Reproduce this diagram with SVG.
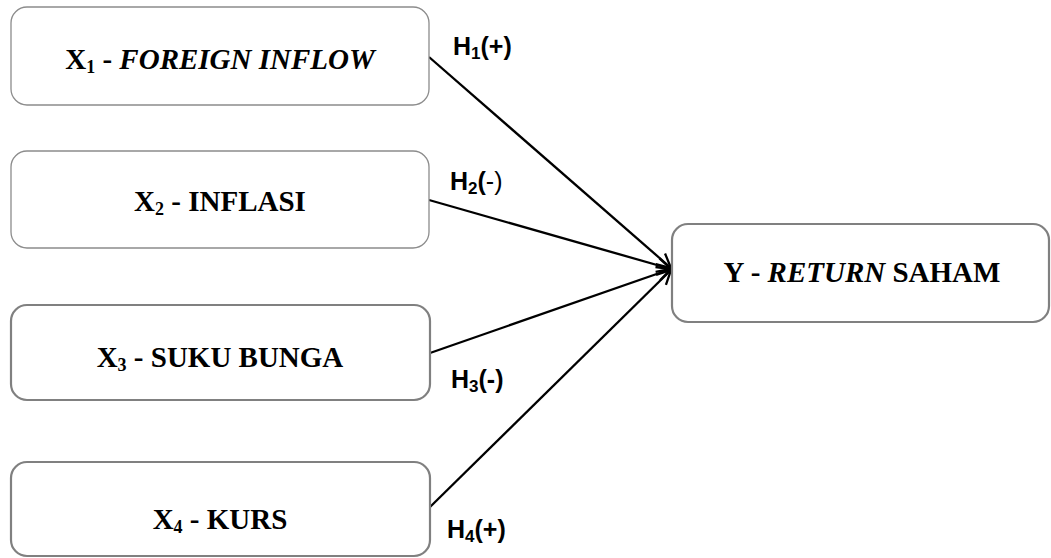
<svg xmlns="http://www.w3.org/2000/svg" width="1051" height="558" viewBox="0 0 1051 558">
<style>
.box{fill:#fff;stroke:#8c8c8c;stroke-width:1.3}
.box2{fill:#fff;stroke:#808080;stroke-width:2.2}
.t{font-family:"Liberation Serif","Times New Roman",serif;font-weight:bold;font-size:29px;fill:#000;text-anchor:middle}
.h{font-family:"Liberation Sans",Arial,sans-serif;font-weight:bold;font-size:25px;fill:#000}
.sub{font-size:18px}
.hs{font-size:17px}
.edge{stroke:#000;stroke-width:2.3;fill:none;marker-end:url(#arr)}
</style>
<defs>
<marker id="arr" markerUnits="userSpaceOnUse" markerWidth="22" markerHeight="22" refX="16" refY="11" orient="auto" viewBox="0 0 22 22">
<path d="M2,4 L16,11 L2,18" fill="none" stroke="#000" stroke-width="2.3"/>
</marker>
</defs>
<rect width="1051" height="558" fill="#fff"/>
<g id="connectors">
<line class="edge" x1="429" y1="57" x2="671" y2="268"/>
<line class="edge" x1="429" y1="200" x2="671" y2="269"/>
<line class="edge" x1="430" y1="353" x2="671" y2="269"/>
<line class="edge" x1="430" y1="507" x2="671" y2="270"/>
</g>
<g id="x1">
<rect class="box" x="11" y="7" width="418" height="98" rx="16"/>
<text class="t" x="220" y="69">X<tspan class="sub" dy="4">1</tspan><tspan dy="-4"> - </tspan><tspan font-style="italic">FOREIGN INFLOW</tspan></text>
</g>
<g id="x2">
<rect class="box" x="11" y="151" width="418" height="97" rx="16"/>
<text class="t" x="220" y="211">X<tspan class="sub" dy="4">2</tspan><tspan dy="-4"> - INFLASI</tspan></text>
</g>
<g id="x3">
<rect class="box2" x="11" y="305" width="419" height="95" rx="16"/>
<text class="t" x="220" y="367">X<tspan class="sub" dy="4">3</tspan><tspan dy="-4"> - SUKU BUNGA</tspan></text>
</g>
<g id="x4">
<rect class="box2" x="11" y="462" width="419" height="94" rx="16"/>
<text class="t" x="220" y="529">X<tspan class="sub" dy="4">4</tspan><tspan dy="-4"> - KURS</tspan></text>
</g>
<g id="y">
<rect class="box2" x="672" y="224" width="377" height="98" rx="16"/>
<text class="t" x="862" y="282">Y - <tspan font-style="italic">RETURN</tspan> SAHAM</text>
</g>
<g id="labels">
<text class="h" x="453" y="55">H<tspan class="hs" dy="4">1</tspan><tspan dy="-4">(+)</tspan></text>
<text class="h" x="450" y="190">H<tspan class="hs" dy="4">2</tspan><tspan dy="-4">(</tspan><tspan font-weight="normal">-)</tspan></text>
<text class="h" x="451" y="388">H<tspan class="hs" dy="4">3</tspan><tspan dy="-4">(-)</tspan></text>
<text class="h" x="447" y="538">H<tspan class="hs" dy="4">4</tspan><tspan dy="-4">(+)</tspan></text>
</g>
</svg>
